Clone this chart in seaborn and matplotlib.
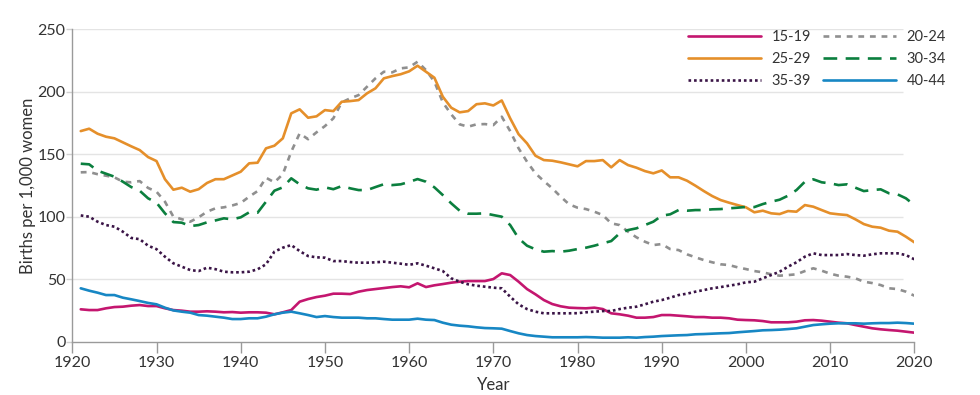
import numpy as np
import pandas as pd
import seaborn as sns
import matplotlib.pyplot as plt

# birth rates per 1,000 women by age group, 1921-2020
years = list(range(1921, 2021))

rate_15_19 = [
    25.9, 25.3, 25.3, 26.7, 27.7, 28.0, 28.8, 29.3, 28.5, 28.5,
    26.7, 25.3, 24.8, 24.0, 24.0, 24.3, 24.0, 23.5, 23.7, 23.2,
    23.5, 23.5, 23.2, 21.9, 23.5, 25.3, 32.0, 34.1, 35.7, 36.8,
    38.4, 38.4, 38.1, 40.0, 41.3, 42.1, 42.9, 43.7, 44.3, 43.5,
    46.7, 43.7, 45.1, 46.1, 47.2, 48.0, 48.5, 48.5, 48.5, 50.1,
    54.7, 53.3, 48.0, 42.1, 37.9, 33.3, 30.1, 28.3, 27.2, 26.9,
    26.7, 27.2, 26.1, 22.7, 21.9, 20.8, 19.2, 19.2, 19.7, 21.3,
    21.3, 20.8, 20.3, 19.7, 19.7, 19.2, 19.2, 18.7, 17.6, 17.3,
    17.1, 16.5, 15.5, 15.5, 15.5, 16.0, 17.1, 17.3, 16.8, 16.0,
    15.2, 14.7, 13.3, 12.0, 10.7, 9.9, 9.3, 8.8, 8.0, 7.2,
]
rate_20_24 = [
    135.5, 135.7, 134.0, 132.8, 131.5, 128.0, 127.5, 128.5, 123.0, 120.0,
    112.0, 100.0, 98.0, 96.0, 99.5, 104.0, 106.7, 107.5, 109.0, 111.0,
    116.0, 120.5, 131.2, 127.5, 134.0, 152.0, 166.7, 162.0, 167.5, 172.5,
    178.7, 191.5, 194.7, 197.3, 204.0, 210.7, 216.0, 215.5, 218.7, 219.5,
    224.0, 217.3, 208.0, 191.5, 181.9, 173.9, 172.0, 173.9, 174.1, 173.3,
    180.0, 168.5, 154.7, 144.0, 134.7, 128.5, 122.7, 116.0, 109.9, 107.2,
    106.1, 104.0, 101.3, 94.7, 93.3, 88.0, 83.5, 80.0, 77.3, 78.1,
    74.1, 73.3, 69.9, 67.5, 65.3, 63.5, 61.9, 61.3, 59.5, 58.1,
    56.5, 55.5, 53.9, 52.8, 53.3, 53.9, 56.5, 58.7, 56.8, 54.4,
    52.8, 52.0, 50.7, 48.0, 46.9, 45.3, 42.7, 42.1, 40.0, 36.8,
]
rate_25_29 = [
    168.5, 170.4, 166.4, 164.0, 162.7, 159.5, 156.3, 153.3, 147.7, 144.5,
    130.0, 121.6, 123.2, 120.0, 122.0, 127.0, 130.0, 130.0, 133.0, 136.0,
    142.7, 143.2, 154.7, 156.8, 162.7, 182.7, 185.9, 179.2, 180.3, 185.3,
    184.5, 192.0, 192.5, 193.3, 198.7, 202.7, 210.7, 212.5, 214.0, 216.3,
    220.8, 216.0, 211.2, 196.0, 187.2, 183.5, 184.5, 190.0, 190.7, 189.0,
    193.0, 178.7, 166.0, 158.7, 148.8, 145.3, 144.8, 143.5, 141.9, 140.3,
    144.5, 144.5, 145.3, 139.5, 145.3, 141.3, 139.2, 136.5, 134.7, 137.0,
    131.5, 131.5, 128.8, 124.8, 120.5, 116.5, 113.3, 111.2, 109.3, 107.5,
    103.5, 104.8, 102.7, 102.1, 104.5, 104.0, 109.3, 108.0, 105.3, 102.7,
    101.9, 101.3, 97.9, 94.1, 92.0, 91.2, 88.8, 88.0, 84.0, 79.5,
]
rate_30_34 = [
    142.4, 141.9, 136.8, 134.4, 132.0, 128.0, 123.7, 120.8, 114.7, 111.2,
    102.7, 95.7, 95.2, 92.5, 93.3, 95.5, 97.0, 98.7, 97.9, 99.5,
    103.5, 103.2, 112.0, 120.8, 123.5, 130.7, 125.9, 122.7, 121.6, 123.5,
    122.0, 124.5, 122.7, 121.3, 121.3, 123.7, 126.0, 125.3, 125.9, 127.8,
    130.1, 128.0, 123.5, 117.3, 110.7, 104.8, 102.4, 102.4, 102.7, 101.3,
    100.0, 93.3, 82.7, 76.8, 73.9, 72.0, 72.5, 72.0, 72.8, 74.1,
    75.2, 76.8, 78.7, 80.5, 86.7, 89.3, 90.7, 93.3, 96.0, 100.8,
    101.9, 105.3, 104.8, 105.3, 105.3, 105.9, 106.1, 106.7, 107.2, 107.8,
    107.7, 110.1, 112.0, 113.6, 116.8, 121.3, 128.0, 129.9, 127.5, 126.7,
    125.3, 125.9, 123.2, 120.5, 121.3, 121.9, 118.7, 117.9, 114.7, 109.3,
]
rate_35_39 = [
    101.0, 100.0, 96.0, 93.3, 92.0, 88.0, 83.0, 82.0, 76.8, 74.0,
    68.0, 62.7, 60.0, 57.3, 56.5, 59.2, 58.0, 56.0, 55.5, 55.5,
    56.0, 57.9, 61.9, 72.0, 75.2, 77.3, 72.5, 68.5, 67.5, 67.2,
    64.5, 64.5, 63.7, 63.2, 63.2, 63.5, 64.0, 63.2, 62.4, 61.5,
    62.7, 60.8, 58.7, 56.5, 50.7, 48.0, 45.9, 44.8, 44.0, 43.2,
    42.7, 36.0, 29.9, 26.1, 24.0, 22.7, 22.7, 22.7, 22.7, 22.8,
    23.5, 24.0, 24.5, 24.5, 26.1, 27.2, 28.0, 29.9, 32.0, 33.3,
    35.2, 37.3, 38.4, 40.0, 41.3, 42.7, 43.7, 44.8, 45.9, 47.5,
    48.0, 50.7, 53.3, 56.0, 60.0, 63.5, 68.0, 70.7, 69.3, 69.3,
    69.3, 70.1, 69.3, 68.8, 69.9, 70.7, 70.7, 70.7, 69.3, 65.9,
]
rate_40_44 = [
    42.7, 40.8, 39.2, 37.3, 37.3, 35.2, 33.9, 32.5, 31.0, 29.9,
    27.2, 25.0, 24.0, 23.2, 21.3, 20.8, 20.0, 19.2, 18.1, 18.1,
    18.7, 18.7, 20.0, 21.9, 23.2, 24.0, 22.7, 21.3, 19.7, 20.5,
    19.7, 19.2, 19.2, 19.2, 18.7, 18.7, 18.1, 17.6, 17.6, 17.6,
    18.4, 17.6, 17.3, 15.2, 13.6, 12.8, 12.3, 11.5, 10.9, 10.7,
    10.4, 8.5, 6.7, 5.3, 4.5, 4.0, 3.5, 3.5, 3.5, 3.5,
    3.7, 3.5, 3.2, 3.2, 3.2, 3.5, 3.2, 3.7, 4.0, 4.5,
    4.8, 5.1, 5.3, 5.9, 6.1, 6.4, 6.7, 6.9, 7.5, 8.0,
    8.5, 9.1, 9.3, 9.6, 10.1, 10.7, 12.0, 13.3, 13.9, 14.4,
    14.7, 14.7, 14.7, 14.4, 14.7, 14.9, 14.9, 15.2, 14.9, 14.4,
]

x_ticks = list(range(1920, 2021, 10))
y_ticks = [0, 50, 100, 150, 200, 250]

# label, values, colour, line style
series = [
    ('15-19', rate_15_19, '#c4166f', '-'),
    ('20-24', rate_20_24, '#8f8f8f', (0, (2.2, 2.2))),
    ('25-29', rate_25_29, '#e58f2a', '-'),
    ('30-34', rate_30_34, '#0b7f3e', (0, (5.2, 3.2))),
    ('35-39', rate_35_39, '#3a1446', (0, (1, 1.1))),
    ('40-44', rate_40_44, '#1787c4', '-'),
]

sns.set_style('white')
plt.rcParams['font.family'] = ['Lato', 'DejaVu Sans']

fig = plt.figure(figsize=(9.8, 3.95), dpi=100)
ax = fig.add_axes([0.0738, 0.135, 0.8592, 0.791])

lines = {}
for label, vals, color, ls in series:
    df = pd.DataFrame({'Year': years, 'rate': vals})
    sns.lineplot(data=df, x='Year', y='rate', ax=ax, color=color,
                 linestyle=ls, linewidth=1.9, label=label)
    lines[label] = ax.get_lines()[-1]

ax.hlines(y_ticks[1:], 1920, 2018.7, color='#e4e4e4', linewidth=1, zorder=0)

ax.set_xlim(1920, 2020)
ax.set_ylim(0, 250)
ax.set_xticks(x_ticks)
ax.set_yticks(y_ticks)
ax.set_xlabel('Year', fontsize=12, color='#333333', labelpad=5)
ax.set_ylabel('Births per 1,000 women', fontsize=12, color='#333333', labelpad=1)
ax.tick_params(axis='x', length=8, width=1, color='#9a9a9a', labelsize=11.5,
               labelcolor='#333333', pad=2, direction='out', bottom=True)
ax.tick_params(axis='y', length=4, width=1, color='#d0d0d0', labelsize=11.5,
               labelcolor='#333333', pad=1, left=True)
for side in ['top', 'right']:
    ax.spines[side].set_visible(False)
for side in ['left', 'bottom']:
    ax.spines[side].set_color('#9a9a9a')
    ax.spines[side].set_linewidth(1)

# legend filled column-wise: 2 columns x 3 rows
order = ['15-19', '25-29', '35-39', '20-24', '30-34', '40-44']
ax.legend([lines[k] for k in order], order, ncol=2, frameon=False,
          loc='upper left', bbox_to_anchor=(0.702, 0.925),
          bbox_transform=fig.transFigure, fontsize=10.5,
          handlelength=5.0, handletextpad=0.75, columnspacing=0.8,
          labelspacing=0.55, borderpad=0, borderaxespad=0,
          labelcolor='#333333')

fig.savefig('out.png', dpi=100)
